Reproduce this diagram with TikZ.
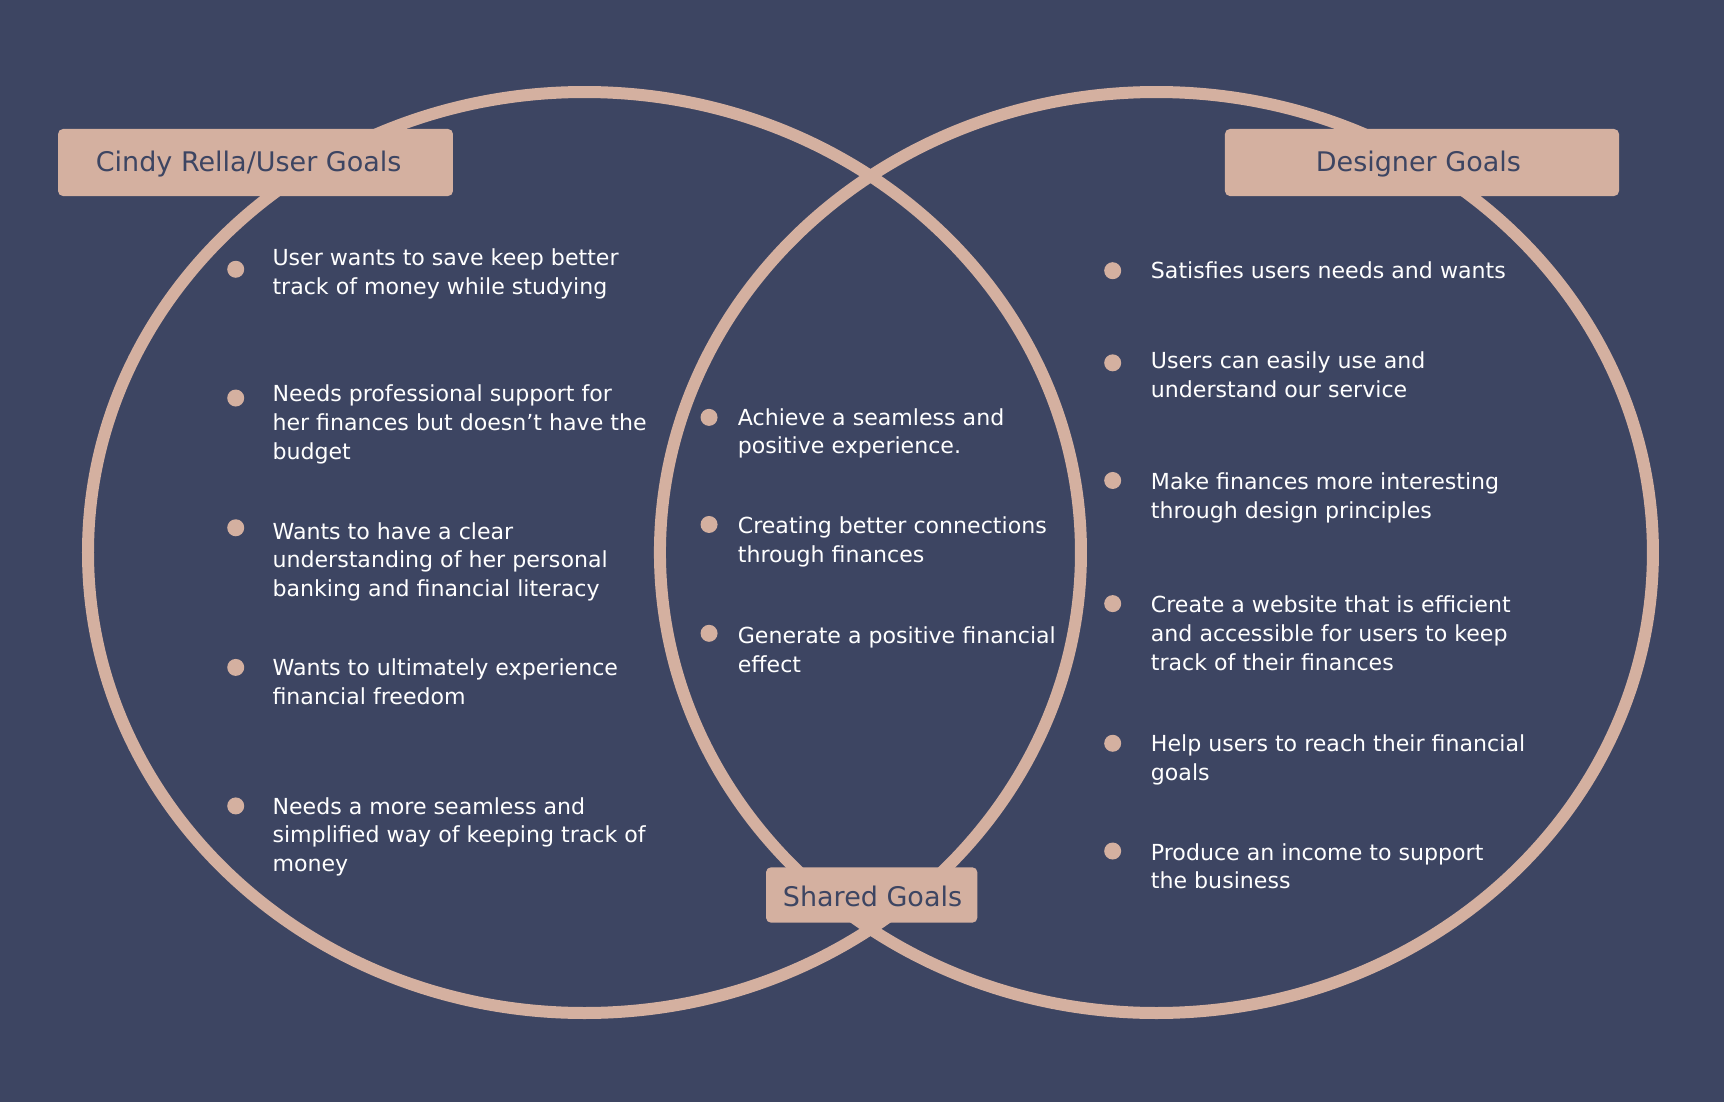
\documentclass[tikz,border=0pt]{standalone}
\usepackage{fontspec}
\setmainfont{DejaVu Sans}
\definecolor{bgnavy}{RGB}{61,69,98}
\definecolor{rose}{RGB}{212,176,160}
\tikzset{
  ring/.style={draw=rose, line width=12pt},
  tag/.style={fill=rose, rounded corners=5pt, inner sep=0pt},
  tagtext/.style={anchor=base west, inner sep=0pt, text=bgnavy, font=\fontsize{27}{32}\selectfont},
  txt/.style={anchor=base west, inner sep=0pt, text=white, font=\fontsize{22.1}{28.6}\selectfont},
  dot/.style={circle, fill=rose, inner sep=0pt, minimum size=17pt}
}
\begin{document}
\begin{tikzpicture}[x=1.0995pt, y=-1.0995pt]
\fill[bgnavy] (0,0) rectangle (1568,1002);
\useasboundingbox (0,0) rectangle (1568,1002);
% rings
\draw[ring] (531.6,502.5) ellipse [x radius=496.5pt, y radius=460.5pt];
\draw[ring] (1051.8,502.5) ellipse [x radius=496.5pt, y radius=460.5pt];
% tags
\path[tag] (52.8,117.3) rectangle (412,178.3);
\node[tagtext] (tuser) at (87,156.2) {Cindy Rella/User Goals};
\path[tag] (1114.1,117.3) rectangle (1472.5,178.3);
\node[tagtext] (tdes) at (1196.6,156.2) {Designer Goals};
\path[tag] (696.7,788.8) rectangle (888.9,839.2);
\node[tagtext] (tsh) at (711.9,824.6) {Shared Goals};
% left bullets
\node[dot] (b1) at (214.4,244.9) {};
\node[dot] (b2) at (214.4,362) {};
\node[dot] (b3) at (214.4,480) {};
\node[dot] (b4) at (214.4,607) {};
\node[dot] (b5) at (214.4,733) {};
\node[txt] (l1a) at (247.7,241.5) {User wants to save keep better};
\node[txt] (l1b) at (247.7,267.5) {track of money while studying};
\node[txt] (l2a) at (247.7,365.5) {Needs professional support for};
\node[txt] (l2b) at (247.7,391.5) {her finances but doesn’t have the};
\node[txt] (l2c) at (247.7,417.5) {budget};
\node[txt] (l3a) at (247.7,490.5) {Wants to have a clear};
\node[txt] (l3b) at (247.7,516.5) {understanding of her personal};
\node[txt] (l3c) at (247.7,542.5) {banking and financial literacy};
\node[txt] (l4a) at (247.7,614.5) {Wants to ultimately experience};
\node[txt] (l4b) at (247.7,640.5) {financial freedom};
\node[txt] (l5a) at (247.7,740.5) {Needs a more seamless and};
\node[txt] (l5b) at (247.7,766.5) {simplified way of keeping track of};
\node[txt] (l5c) at (247.7,792.5) {money};
% middle bullets
\node[dot] (m1) at (644.9,379.6) {};
\node[dot] (m2) at (644.9,477) {};
\node[dot] (m3) at (644.9,576) {};
\node[txt] (s1a) at (670.9,386.8) {Achieve a seamless and};
\node[txt] (s1b) at (670.9,412.8) {positive experience.};
\node[txt] (s2a) at (670.9,485.5) {Creating better connections};
\node[txt] (s2b) at (670.9,511.5) {through finances};
\node[txt] (s3a) at (670.9,585.5) {Generate a positive financial};
\node[txt] (s3b) at (670.9,611.5) {effect};
% right bullets
\node[dot] (r1) at (1012,246.2) {};
\node[dot] (r2) at (1012,330) {};
\node[dot] (r3) at (1012,437) {};
\node[dot] (r4) at (1012,549) {};
\node[dot] (r5) at (1012,676) {};
\node[dot] (r6) at (1012,774) {};
\node[txt] (d1a) at (1046.6,253.3) {Satisfies users needs and wants};
\node[txt] (d2a) at (1046.6,335.5) {Users can easily use and};
\node[txt] (d2b) at (1046.6,361.5) {understand our service};
\node[txt] (d3a) at (1046.6,445.5) {Make finances more interesting};
\node[txt] (d3b) at (1046.6,471.5) {through design principles};
\node[txt] (d4a) at (1046.6,557.5) {Create a website that is efficient};
\node[txt] (d4b) at (1046.6,583.5) {and accessible for users to keep};
\node[txt] (d4c) at (1046.6,609.5) {track of their finances};
\node[txt] (d5a) at (1046.6,683.5) {Help users to reach their financial};
\node[txt] (d5b) at (1046.6,709.5) {goals};
\node[txt] (d6a) at (1046.6,782.5) {Produce an income to support};
\node[txt] (d6b) at (1046.6,808.5) {the business};
\end{tikzpicture}
\end{document}
